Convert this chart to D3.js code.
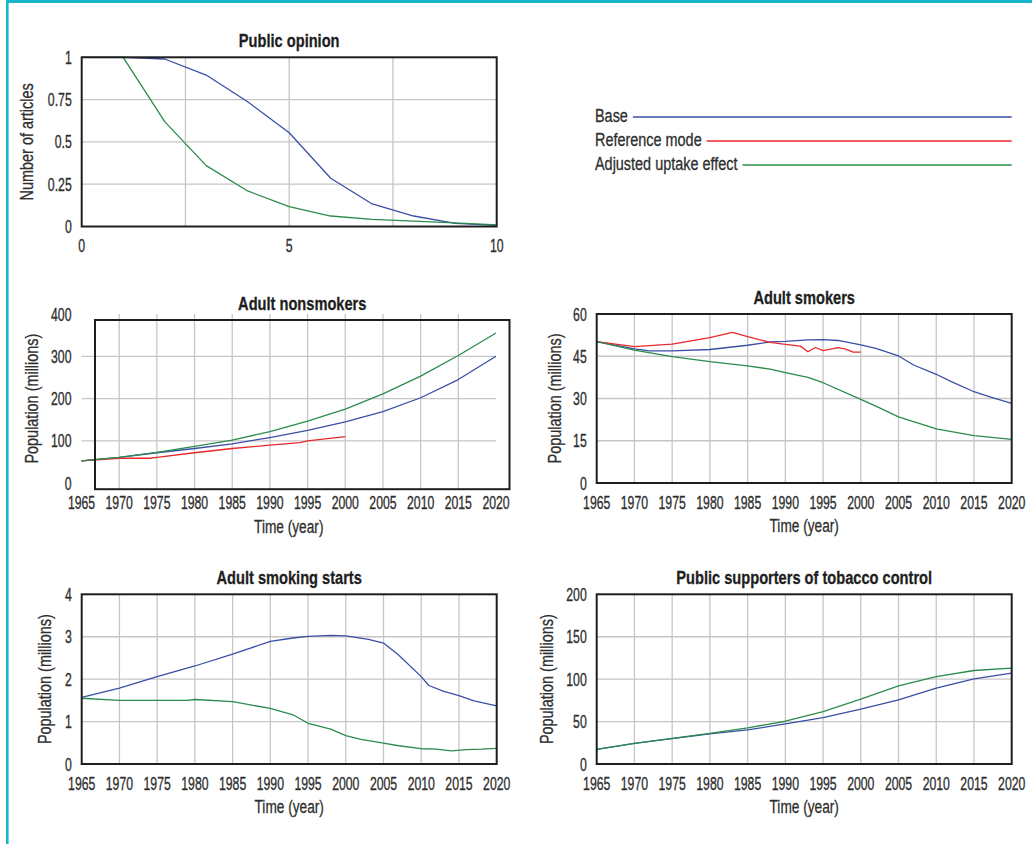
<!DOCTYPE html>
<html>
<head>
<meta charset="utf-8">
<script src="https://cdn.jsdelivr.net/npm/d3@7/dist/d3.min.js"></script>
<style>
  body { margin: 0; background: #fff; }
  svg { display: block; font-family: "Liberation Sans", Arial, sans-serif; }
  .tick-label { font-size: 19px; fill: #2e2e2e; stroke: #2e2e2e; stroke-width: 0.35; }
  .axis-title { font-size: 19px; fill: #2e2e2e; stroke: #2e2e2e; stroke-width: 0.3; }
  .panel-title { font-size: 19px; font-weight: bold; fill: #1e1e1e; stroke: #1e1e1e; stroke-width: 0.3; }
  .grid { stroke: #c6c6c6; stroke-width: 1.3; }
</style>
</head>
<body>
<svg id="chart" width="1032" height="844"></svg>
<script>
// ---------------- data ----------------
var seriesNames = ["Base", "Reference mode", "Adjusted uptake effect"];
var seriesColors = ["#3b4ea6", "#e8282d", "#2a8c4c"];

// Public opinion (x = 0..10)
var opinionX = [0, 1, 2, 3, 4, 5, 6, 7, 8, 9, 10];
var opinionBase = [1, 1, 0.99, 0.895, 0.737, 0.554, 0.285, 0.133, 0.062, 0.019, 0.007];
var opinionAdjusted = [1, 1, 0.62, 0.36, 0.21, 0.117, 0.062, 0.042, 0.032, 0.022, 0.01];

var years = [1965, 1970, 1975, 1980, 1985, 1990, 1995, 2000, 2005, 2010, 2015, 2020];

// Adult nonsmokers
var nonsmokersBase = [53, 61, 72, 82, 93, 108, 125, 145, 169, 202, 245, 300];
var nonsmokersAdjusted = [53, 61, 73, 87, 102, 122, 147, 175, 211, 253, 302, 355];
var nonsmokersRefYears = [1965, 1970, 1974, 1975, 1980, 1985, 1990, 1992, 1994, 1995, 2000];
var nonsmokersRef = [53, 59, 59, 61, 72, 82, 90, 93, 96, 100, 110];

// Adult smokers
var smokersBaseYears = [1965, 1970, 1972, 1975, 1980, 1985, 1988, 1990, 1993, 1995, 1997, 2000, 2002, 2005, 2007, 2010, 2012, 2015, 2017, 2020];
var smokersBase = [50.2, 47.6, 46.9, 46.9, 47.4, 48.9, 50.1, 50.3, 50.8, 50.9, 50.6, 49, 47.8, 45.1, 41.9, 38.6, 36, 32.4, 30.7, 28.3];
var smokersAdjYears = [1965, 1970, 1975, 1980, 1985, 1988, 1990, 1993, 1995, 2000, 2002, 2005, 2010, 2015, 2020];
var smokersAdjusted = [50.2, 47.2, 44.9, 43.1, 41.6, 40.4, 39.2, 37.5, 35.6, 29.7, 27.3, 23.5, 19.2, 16.8, 15.5];
var smokersRefYears = [1965, 1970, 1975, 1980, 1983, 1985, 1988, 1990, 1992, 1993, 1994, 1995, 1997, 1998, 1999, 2000];
var smokersRef = [50.2, 48.4, 49.3, 51.6, 53.5, 52, 49.9, 49.2, 48.6, 46.6, 48.1, 47, 48.1, 47.5, 46.5, 46.5];

// Adult smoking starts
var startsBaseYears = [1965, 1970, 1975, 1980, 1985, 1990, 1993, 1995, 1998, 2000, 2003, 2005, 2007, 2010, 2011, 2013, 2015, 2017, 2020];
var startsBase = [1.57, 1.79, 2.06, 2.31, 2.59, 2.89, 2.97, 3.01, 3.03, 3.02, 2.94, 2.85, 2.57, 2.06, 1.85, 1.71, 1.61, 1.49, 1.37];
var startsAdjYears = [1965, 1970, 1975, 1979, 1980, 1985, 1990, 1993, 1995, 1998, 2000, 2002, 2005, 2007, 2010, 2012, 2014, 2016, 2018, 2020];
var startsAdjusted = [1.55, 1.5, 1.5, 1.5, 1.52, 1.47, 1.31, 1.16, 0.96, 0.82, 0.67, 0.58, 0.49, 0.43, 0.36, 0.35, 0.31, 0.34, 0.35, 0.37];

// Public supporters of tobacco control
var supportersBase = [17.3, 24.4, 29.9, 35.4, 40.2, 47.2, 54.7, 64.6, 75.6, 89.4, 100.4, 107];
var supportersAdjusted = [17.3, 24.4, 30.3, 36.2, 42.5, 50.4, 61.8, 76.4, 92.1, 103.1, 110.2, 113];

var yearTicks = years;

var svg = d3.select("#chart");

// page border (cyan top and left rules)
svg.append("rect").attr("x", 6).attr("y", 0).attr("width", 1026).attr("height", 3).attr("fill", "#17b6cc");
svg.append("rect").attr("x", 6).attr("y", 0).attr("width", 2.6).attr("height", 844).attr("fill", "#17b6cc");

function zip(xs, ys) {
  return xs.map(function(x, i) { return [x, ys[i]]; });
}

// condensed text: regular font squeezed horizontally
function addText(g, cls, x, y, str, anchor, sx, rot) {
  return g.append("text").attr("class", cls)
    .attr("transform", "translate(" + x + "," + y + ")" + (rot ? " rotate(" + rot + ")" : "") + " scale(" + sx + ",1)")
    .attr("text-anchor", anchor)
    .attr("dominant-baseline", "central")
    .text(str);
}

// -------- one panel --------
function drawPanel(opt) {
  var x = d3.scaleLinear().domain(opt.xDomain).range([opt.left, opt.left + opt.width]);
  var y = d3.scaleLinear().domain(opt.yDomain).range([opt.top + opt.height, opt.top]);
  var g = svg.append("g");
  var fx = opt.frameShift ? opt.frameShift[0] : 0;
  var fy = opt.frameShift ? opt.frameShift[1] : 0;

  // grid
  g.selectAll("line.vg").data(opt.xGrid).enter().append("line")
    .attr("class", "grid")
    .attr("x1", function(d) { return x(d); }).attr("x2", function(d) { return x(d); })
    .attr("y1", opt.top).attr("y2", opt.top + opt.height + fy);
  g.selectAll("line.hg").data(opt.yGrid).enter().append("line")
    .attr("class", "grid")
    .attr("x1", opt.left).attr("x2", opt.left + opt.width)
    .attr("y1", function(d) { return y(d); }).attr("y2", function(d) { return y(d); });

  // series
  var line = d3.line().x(function(d) { return x(d[0]); }).y(function(d) { return y(d[1]); });
  opt.series.forEach(function(s) {
    g.append("path").datum(s.data)
      .attr("d", line)
      .attr("fill", "none")
      .attr("stroke", s.color)
      .attr("stroke-width", 1.3)
      .attr("stroke-linejoin", "round");
  });

  // frame
  g.append("rect")
    .attr("x", opt.left + fx).attr("y", opt.top + fy)
    .attr("width", opt.width).attr("height", opt.height)
    .attr("fill", "none").attr("stroke", "#1e1e1e").attr("stroke-width", 2);

  // tick labels
  opt.xTicks.forEach(function(d) {
    addText(g, "tick-label", x(d), opt.top + opt.height + 19, d, "middle", 0.645);
  });
  opt.yTicks.forEach(function(d) {
    addText(g, "tick-label", opt.left - 10, y(d), d, "end", 0.645);
  });

  // titles
  addText(g, "panel-title", opt.left + fx + opt.width / 2, opt.top + fy - 16, opt.title, "middle", 0.77);
  addText(g, "axis-title", opt.yLabelX, opt.top + opt.height / 2, opt.yLabel, "middle", 0.76, -90);
  if (opt.xLabel) {
    addText(g, "axis-title", opt.left + opt.width / 2, opt.top + opt.height + 43, opt.xLabel, "middle", 0.72);
  }
}

var yearGrid = years.slice(1, -1);

drawPanel({
  title: "Public opinion", yLabel: "Number of articles", yLabelX: 27,
  left: 81.7, top: 57.3, width: 415, height: 169.2,
  xDomain: [0, 10], yDomain: [0, 1],
  xGrid: [2.5, 5, 7.5], yGrid: [0.25, 0.5, 0.75],
  xTicks: [0, 5, 10], yTicks: [0, 0.25, 0.5, 0.75, 1],
  series: [
    { data: zip(opinionX, opinionBase), color: seriesColors[0] },
    { data: zip(opinionX, opinionAdjusted), color: seriesColors[2] }
  ]
});

drawPanel({
  title: "Adult nonsmokers", yLabel: "Population (millions)", xLabel: "Time (year)", yLabelX: 32,
  left: 81.5, top: 314, width: 414.5, height: 169.2, frameShift: [13.5, 6],
  xDomain: [1965, 2020], yDomain: [0, 400],
  xGrid: yearGrid, yGrid: [100, 200, 300],
  xTicks: yearTicks, yTicks: [0, 100, 200, 300, 400],
  series: [
    { data: zip(years, nonsmokersBase), color: seriesColors[0] },
    { data: zip(nonsmokersRefYears, nonsmokersRef), color: seriesColors[1] },
    { data: zip(years, nonsmokersAdjusted), color: seriesColors[2] }
  ]
});

drawPanel({
  title: "Adult smokers", yLabel: "Population (millions)", xLabel: "Time (year)", yLabelX: 555,
  left: 596.7, top: 314, width: 415, height: 169,
  xDomain: [1965, 2020], yDomain: [0, 60],
  xGrid: yearGrid, yGrid: [15, 30, 45],
  xTicks: yearTicks, yTicks: [0, 15, 30, 45, 60],
  series: [
    { data: zip(smokersBaseYears, smokersBase), color: seriesColors[0] },
    { data: zip(smokersRefYears, smokersRef), color: seriesColors[1] },
    { data: zip(smokersAdjYears, smokersAdjusted), color: seriesColors[2] }
  ]
});

drawPanel({
  title: "Adult smoking starts", yLabel: "Population (millions)", xLabel: "Time (year)", yLabelX: 45,
  left: 81.7, top: 594.3, width: 415, height: 169.7,
  xDomain: [1965, 2020], yDomain: [0, 4],
  xGrid: yearGrid, yGrid: [1, 2, 3],
  xTicks: yearTicks, yTicks: [0, 1, 2, 3, 4],
  series: [
    { data: zip(startsBaseYears, startsBase), color: seriesColors[0] },
    { data: zip(startsAdjYears, startsAdjusted), color: seriesColors[2] }
  ]
});

drawPanel({
  title: "Public supporters of tobacco control", yLabel: "Population (millions)", xLabel: "Time (year)", yLabelX: 547,
  left: 596.7, top: 594.3, width: 415, height: 169.7,
  xDomain: [1965, 2020], yDomain: [0, 200],
  xGrid: yearGrid, yGrid: [50, 100, 150],
  xTicks: yearTicks, yTicks: [0, 50, 100, 150, 200],
  series: [
    { data: zip(years, supportersBase), color: seriesColors[0] },
    { data: zip(years, supportersAdjusted), color: seriesColors[2] }
  ]
});

// -------- legend --------
var legendY = d3.scalePoint().domain(seriesNames).range([116, 164]);
var legend = svg.append("g");
var legendScale = 0.76;
seriesNames.forEach(function(name, i) {
  var t = addText(legend, "axis-title", 595, legendY(name), name, "start", legendScale);
  var w = t.node().getComputedTextLength() * legendScale;
  legend.append("line")
    .attr("x1", 595 + w + 5).attr("x2", 1011.7)
    .attr("y1", legendY(name) + 1).attr("y2", legendY(name) + 1)
    .attr("stroke", seriesColors[i]).attr("stroke-width", 1.3);
});
</script>
</body>
</html>
